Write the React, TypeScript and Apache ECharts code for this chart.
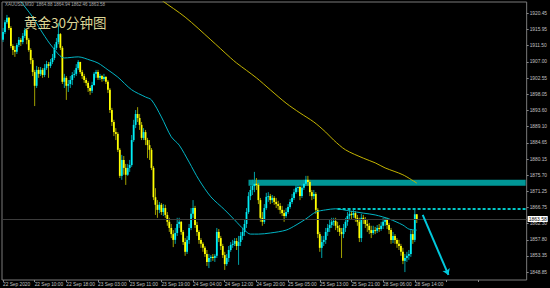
import React, { useEffect, useRef } from 'react';
import * as echarts from 'echarts';

const firstOpen = 1913.1;
const closes = [
  1915.3, 1918.0, 1919.2, 1916.4, 1911.4, 1910.3, 1909.8, 1911.7, 1913.1, 1912.5,
  1914.2, 1915.8, 1913.1, 1910.3, 1907.5, 1904.2, 1900.4, 1904.8, 1903.7, 1904.8,
  1903.4, 1905.3, 1906.4, 1905.9, 1907.0, 1908.1, 1910.9, 1912.5, 1914.7, 1910.9,
  1901.5, 1902.6, 1900.4, 1900.9, 1902.0, 1903.4, 1903.7, 1905.3, 1907.0, 1904.2,
  1903.1, 1902.0, 1901.2, 1899.8, 1899.0, 1900.6, 1903.7, 1904.2, 1902.6, 1903.1,
  1902.3, 1902.8, 1901.5, 1899.3, 1893.7, 1890.4, 1887.6, 1887.1, 1882.7, 1875.5,
  1879.9, 1877.7, 1875.8, 1877.7, 1878.5, 1885.4, 1889.6, 1892.6, 1891.5, 1889.6,
  1886.0, 1887.6, 1885.4, 1884.0, 1882.7, 1877.7, 1869.6, 1867.5, 1866.1, 1867.5,
  1865.5, 1866.6, 1864.7, 1862.8, 1861.1, 1859.4, 1857.8, 1859.7, 1862.2, 1862.8,
  1860.0, 1857.2, 1854.5, 1857.8, 1861.1, 1865.0, 1866.6, 1861.9, 1860.0, 1857.8,
  1856.7, 1855.6, 1853.9, 1851.7, 1852.8, 1853.1, 1852.8, 1853.4, 1860.0, 1858.3,
  1856.1, 1853.6, 1851.1, 1852.8, 1855.0, 1856.4, 1856.7, 1857.5, 1856.1, 1857.2,
  1858.9, 1860.0, 1862.2, 1865.5, 1869.9, 1871.6, 1872.7, 1873.3, 1873.0, 1868.8,
  1863.9, 1862.8, 1866.6, 1869.7, 1869.9, 1868.8, 1869.4, 1868.3, 1867.7, 1867.2,
  1866.1, 1865.2, 1864.4, 1865.5, 1866.9, 1868.3, 1869.4, 1871.0, 1872.2, 1872.4,
  1869.9, 1872.2, 1873.3, 1874.4, 1873.8, 1871.0, 1869.9, 1870.5, 1866.1, 1859.4,
  1855.6, 1857.2, 1857.8, 1860.0, 1861.1, 1861.9, 1862.8, 1863.0, 1861.7, 1861.1,
  1860.0, 1859.4, 1861.1, 1862.8, 1864.4, 1865.0, 1864.7, 1865.2, 1863.9, 1862.8,
  1858.3, 1863.9, 1863.3, 1862.2, 1861.7, 1860.5, 1859.7, 1860.5, 1860.3, 1861.1,
  1860.8, 1861.7, 1862.8, 1863.3, 1861.9, 1860.5, 1857.8, 1858.9, 1857.8, 1856.7,
  1856.1, 1854.5, 1852.0, 1852.8, 1853.4, 1853.9, 1859.4, 1857.8, 1864.88, 1863.58,
];
const highs = [
  1916.4, 1918.6, 1920.0, 1919.4, 1916.9, 1911.9, 1911.4, 1912.2, 1913.9, 1913.6,
  1915.0, 1916.4, 1916.1, 1913.6, 1910.8, 1908.1, 1904.8, 1905.9, 1905.6, 1905.6,
  1905.3, 1906.4, 1907.3, 1907.0, 1907.8, 1909.2, 1911.9, 1913.6, 1917.8, 1915.0,
  1911.4, 1903.7, 1903.1, 1902.0, 1903.1, 1904.2, 1904.8, 1906.4, 1907.5, 1907.0,
  1904.8, 1903.7, 1902.6, 1901.7, 1900.4, 1901.5, 1904.2, 1904.8, 1904.8, 1903.7,
  1903.4, 1903.7, 1903.1, 1902.0, 1899.8, 1894.3, 1891.0, 1888.7, 1887.6, 1883.2,
  1881.3, 1881.0, 1878.8, 1878.8, 1879.9, 1886.8, 1891.0, 1893.7, 1894.5, 1892.6,
  1890.4, 1888.7, 1888.2, 1886.0, 1885.4, 1883.2, 1878.2, 1872.1, 1868.8, 1868.3,
  1868.0, 1867.7, 1867.5, 1865.5, 1863.9, 1862.2, 1860.5, 1861.1, 1863.9, 1863.9,
  1863.0, 1860.5, 1858.3, 1858.9, 1862.2, 1866.6, 1868.8, 1867.2, 1862.8, 1860.5,
  1858.3, 1857.2, 1856.1, 1855.0, 1853.9, 1853.6, 1853.9, 1853.9, 1861.1, 1860.8,
  1858.9, 1856.7, 1854.5, 1853.9, 1856.1, 1857.2, 1857.8, 1858.3, 1858.3, 1858.9,
  1860.0, 1861.1, 1863.3, 1866.6, 1871.0, 1872.7, 1874.4, 1876.6, 1874.9, 1873.5,
  1869.4, 1865.5, 1867.7, 1870.8, 1871.0, 1870.5, 1870.2, 1869.9, 1869.4, 1868.6,
  1868.0, 1867.2, 1866.1, 1866.6, 1867.7, 1869.1, 1870.5, 1871.9, 1873.0, 1873.3,
  1872.7, 1873.3, 1874.4, 1875.5, 1875.5, 1874.4, 1871.6, 1871.6, 1871.0, 1866.6,
  1860.0, 1858.9, 1858.9, 1861.1, 1862.2, 1863.3, 1863.9, 1863.9, 1863.9, 1862.8,
  1861.9, 1861.1, 1862.2, 1863.9, 1865.5, 1866.1, 1865.8, 1866.3, 1865.8, 1864.7,
  1863.9, 1865.0, 1864.7, 1864.1, 1863.3, 1862.5, 1861.7, 1861.7, 1861.4, 1861.9,
  1862.2, 1862.8, 1863.9, 1864.1, 1863.9, 1862.5, 1861.1, 1860.0, 1859.4, 1858.3,
  1857.8, 1856.7, 1855.6, 1853.9, 1854.5, 1855.0, 1860.5, 1860.5, 1866.1, 1864.94,
];
const lows = [
  1912.5, 1914.7, 1917.5, 1915.8, 1910.8, 1908.9, 1908.4, 1909.2, 1911.1, 1911.4,
  1911.9, 1913.6, 1911.9, 1909.8, 1906.4, 1903.1, 1894.8, 1899.8, 1902.6, 1903.1,
  1902.6, 1902.8, 1904.8, 1902.6, 1905.3, 1906.4, 1907.5, 1910.3, 1911.9, 1910.3,
  1900.9, 1899.8, 1896.5, 1898.7, 1899.8, 1900.6, 1902.6, 1903.1, 1904.8, 1903.7,
  1902.3, 1901.2, 1900.4, 1898.7, 1897.9, 1898.4, 1900.4, 1902.6, 1902.0, 1902.0,
  1901.5, 1901.7, 1900.9, 1898.4, 1892.9, 1889.3, 1886.5, 1885.4, 1882.1, 1874.9,
  1874.4, 1875.8, 1873.0, 1875.5, 1876.6, 1878.0, 1884.9, 1888.7, 1890.4, 1888.2,
  1885.4, 1885.4, 1884.0, 1880.4, 1879.9, 1877.1, 1868.8, 1864.7, 1863.9, 1865.2,
  1864.7, 1864.4, 1863.9, 1861.7, 1860.0, 1858.3, 1855.8, 1856.7, 1858.9, 1861.1,
  1859.2, 1856.4, 1853.4, 1853.9, 1856.7, 1860.5, 1863.9, 1861.1, 1858.9, 1856.7,
  1855.6, 1854.5, 1853.1, 1850.6, 1850.0, 1851.7, 1852.0, 1851.7, 1852.8, 1857.2,
  1855.0, 1852.8, 1849.5, 1850.6, 1851.7, 1854.5, 1855.6, 1856.1, 1855.0, 1850.9,
  1856.1, 1857.8, 1858.9, 1861.1, 1865.0, 1868.8, 1870.2, 1871.0, 1871.6, 1867.7,
  1862.8, 1861.7, 1862.2, 1866.1, 1868.3, 1867.7, 1868.0, 1867.5, 1866.6, 1866.1,
  1865.0, 1864.4, 1862.8, 1863.9, 1865.0, 1866.4, 1867.7, 1868.8, 1870.5, 1871.0,
  1868.8, 1869.4, 1871.6, 1872.7, 1872.7, 1869.9, 1868.8, 1869.1, 1865.0, 1858.3,
  1854.5, 1852.8, 1856.1, 1856.7, 1858.9, 1860.0, 1861.1, 1861.7, 1860.5, 1860.0,
  1858.9, 1852.8, 1858.3, 1860.0, 1861.7, 1863.3, 1863.6, 1863.9, 1862.8, 1861.7,
  1857.2, 1857.2, 1862.2, 1861.1, 1860.0, 1859.4, 1858.3, 1859.2, 1859.4, 1859.7,
  1860.0, 1860.3, 1860.8, 1861.7, 1860.8, 1859.4, 1856.7, 1856.9, 1856.7, 1855.6,
  1855.0, 1853.4, 1851.1, 1848.9, 1851.7, 1852.3, 1853.1, 1856.7, 1857.2, 1862.46,
];

// moving averages: [bar index, price]
const cyanMA = [
  [0, 1930.2], [8, 1924.4], [15, 1919.4], [20, 1915.0], [25, 1911.1], [31, 1908.1],
  [38, 1908.4], [44, 1907.5], [48, 1906.7], [53, 1904.8], [58, 1902.8], [65, 1899.3],
  [72, 1897.3], [75, 1896.5], [80, 1891.8], [85, 1886.3], [89, 1884.0], [94, 1879.3],
  [99, 1874.4], [105, 1869.7], [112, 1866.1], [117, 1863.3], [122, 1860.5], [125, 1859.4],
  [129, 1859.4], [135, 1859.7], [143, 1860.5], [148, 1861.9], [153, 1863.6], [158, 1865.5],
  [163, 1866.1], [168, 1866.4], [175, 1865.8], [182, 1865.2], [188, 1864.7], [195, 1863.6],
  [202, 1861.9], [205, 1860.8], [209, 1860.5],
];
const yellowMA = [
  [78, 1925.0], [80, 1924.1], [92, 1919.4], [105, 1913.1], [115, 1908.1], [118, 1906.7],
  [128, 1902.6], [135, 1899.3], [143, 1895.6], [150, 1892.9], [157, 1890.4], [163, 1887.6],
  [167, 1885.4], [173, 1882.7], [182, 1880.4], [188, 1879.1], [193, 1877.7], [202, 1875.8],
  [209, 1873.5],
];

const timeLabels = [
  '22 Sep 2020', '22 Sep 10:00', '22 Sep 18:00', '23 Sep 03:00', '23 Sep 11:00',
  '23 Sep 19:00', '24 Sep 04:00', '24 Sep 12:00', '24 Sep 20:00', '25 Sep 05:00',
  '25 Sep 13:00', '25 Sep 21:00', '28 Sep 06:00', '28 Sep 14:00',
];
const priceTicks = [
  1920.45, 1915.95, 1911.5, 1907.0, 1902.55, 1898.05, 1893.6, 1889.1, 1884.65,
  1880.15, 1875.7, 1871.25, 1866.75, 1862.3, 1857.8, 1853.35, 1848.85,
];
const lastPrice = 1863.58;
const zone = { start: 124, top: 1874.4, bottom: 1872.8 };
const resistance = { start: 169, price: 1866.5 };
const arrowFrom = [212, 1864.7];
const arrowTo = [225, 1848.1];
const SLOTS = 265;
const lastSlot = SLOTS - 1;

export default function App() {
  const ref = useRef<HTMLDivElement>(null);
  useEffect(() => {
    const chart = echarts.init(ref.current!, null, { renderer: 'svg' });
    const candles = closes.map((c, i) => {
      const o = i === 0 ? firstOpen : closes[i - 1];
      return [i, o, c, Math.min(lows[i], o, c), Math.max(highs[i], o, c)];
    });
    const cats = Array.from({ length: SLOTS }, (_, i) => String(i));
    const font = 'Liberation Sans, Arial, sans-serif';
    chart.setOption({
      animation: false,
      backgroundColor: '#000',
      grid: {
        left: 2, right: 18, top: 2, bottom: 8, show: true,
        borderColor: '#7a7a7a', borderWidth: 1, backgroundColor: '#000',
      },
      xAxis: {
        type: 'category', data: cats, boundaryGap: true,
        axisLine: { show: false },
        axisTick: { show: true, interval: 15, length: 2, alignWithLabel: true, lineStyle: { color: '#888' } },
        axisLabel: {
          interval: 15, color: '#c0c0c0', fontSize: 4.8, fontFamily: font, align: 'left', margin: 2,
          showMaxLabel: false,
          formatter: (_v: string, idx: number) => {
            const k = idx / 16;
            return Number.isInteger(k) && k < timeLabels.length ? timeLabels[k] : '';
          },
        },
        splitLine: { show: false },
      },
      yAxis: {
        type: 'value', position: 'right', min: 1846.71, max: 1923.57,
        axisLine: { show: false },
        axisTick: { show: true, length: 2, customValues: priceTicks, lineStyle: { color: '#888' } },
        axisLabel: {
          customValues: priceTicks, color: '#c0c0c0', fontSize: 4.8, fontFamily: font, margin: 3,
          formatter: (v: number) => v.toFixed(2),
        },
        splitLine: { show: false },
      },
      graphic: [
        {
          type: 'text', left: 5, top: 2, z: 100,
          style: { text: 'XAUUSD,M30  1864.88 1864.94 1862.46 1863.58', fill: '#a8a8a8', fontSize: 4.5, fontFamily: font },
        },
        {
          type: 'text', left: 24, top: 15, z: 100,
          style: { text: '黄金30分钟图', fill: '#dcd596', fontSize: 13.5, fontFamily: '"Noto Sans CJK SC", sans-serif' },
        },
      ],
      series: [
        {
          type: 'custom',
          data: candles,
          encode: { x: 0, y: [1, 2, 3, 4] },
          clip: true,
          renderItem: (_p: any, api: any) => {
            const i = api.value(0);
            const o = api.value(1), c = api.value(2), l = api.value(3), h = api.value(4);
            const pO = api.coord([i, o]);
            const pC = api.coord([i, c]);
            const pL = api.coord([i, l]);
            const pH = api.coord([i, h]);
            const x = pO[0];
            const bull = c >= o;
            const top = Math.min(pO[1], pC[1]);
            const bh = Math.max(Math.abs(pO[1] - pC[1]), 1);
            return {
              type: 'group',
              children: [
                { type: 'line', shape: { x1: x, y1: pH[1], x2: x, y2: pL[1] }, style: { stroke: bull ? '#00a0a6' : '#a0a000', lineWidth: 1 } },
                { type: 'rect', shape: { x: x - 0.9, y: top, width: 1.8, height: bh }, style: { fill: bull ? '#00eef6' : '#ffff00' } },
              ],
            };
          },
          markArea: {
            silent: true,
            itemStyle: { color: '#009696', opacity: 1 },
            data: [[{ coord: [zone.start, zone.top] }, { coord: [lastSlot, zone.bottom] }]],
          },
          markLine: {
            silent: true,
            symbol: ['none', 'none'],
            animation: false,
            data: [
              {
                yAxis: lastPrice,
                lineStyle: { color: '#3c3c3c', width: 1, type: 'solid' },
                label: {
                  show: true, position: 'end', distance: 1, formatter: '1863.58',
                  backgroundColor: '#ffffff', color: '#000', fontSize: 5, fontFamily: font, padding: [1, 1, 0, 1],
                },
              },
              [
                { coord: [resistance.start, resistance.price], lineStyle: { color: '#00c8c8', width: 2, type: [3, 2] }, label: { show: false } },
                { coord: [lastSlot, resistance.price] },
              ],
              [
                { coord: arrowFrom, symbol: 'none', lineStyle: { color: '#00c8dc', width: 2, type: 'solid' }, label: { show: false } },
                { coord: arrowTo, symbol: 'arrow', symbolSize: 6 },
              ],
            ],
          },
        },
        {
          type: 'line', data: cyanMA, showSymbol: false, smooth: 0.3, clip: true, silent: true,
          lineStyle: { color: '#00b4c4', width: 1 },
        },
        {
          type: 'line', data: yellowMA, showSymbol: false, smooth: 0.3, clip: true, silent: true,
          lineStyle: { color: '#c4b400', width: 1 },
        },
      ],
    });
    return () => chart.dispose();
  }, []);
  return <div ref={ref} style={{ position: 'fixed', left: 0, top: 0, width: 550, height: 288 }} />;
}
